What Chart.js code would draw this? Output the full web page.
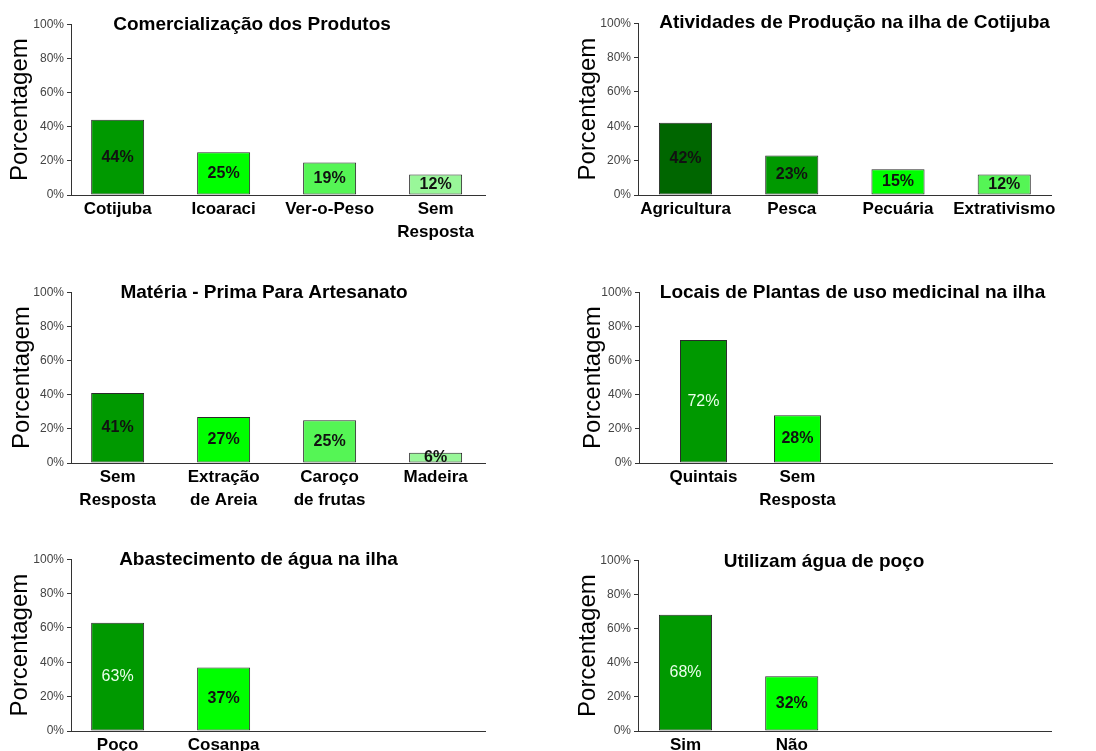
<!DOCTYPE html>
<html lang="pt">
<head>
<meta charset="utf-8">
<title>Cotijuba - gráficos</title>
<script src="https://cdn.jsdelivr.net/npm/chart.js@4/dist/chart.umd.min.js"></script>
<style>
    html, body { margin: 0; padding: 0; background: #fff; overflow: hidden; }
    body { width: 1096px; height: 751px; position: relative; }
    canvas { position: absolute; }
</style>
</head>
<body>
<canvas id="comercChart"></canvas>
<canvas id="ativChart"></canvas>
<canvas id="materiaChart"></canvas>
<canvas id="locaisChart"></canvas>
<canvas id="abastChart"></canvas>
<canvas id="pocoChart"></canvas>
<script>
// Data
const yTickValues = [0, 20, 40, 60, 80, 100];

const comercLabels = ['Cotijuba', 'Icoaraci', 'Ver-o-Peso', ['Sem', 'Resposta']];
const comercValues = [44, 25, 19, 12];

const ativLabels = ['Agricultura', 'Pesca', 'Pecuária', 'Extrativismo'];
const ativValues = [42, 23, 15, 12];

const materiaLabels = [['Sem', 'Resposta'], ['Extração', 'de Areia'], ['Caroço', 'de frutas'], 'Madeira'];
const materiaValues = [41, 27, 25, 6];

const locaisLabels = ['Quintais', ['Sem', 'Resposta']];
const locaisValues = [72, 28];

const abastLabels = ['Poço', 'Cosanpa'];
const abastValues = [63, 37];

const pocoLabels = ['Sim', 'Não'];
const pocoValues = [68, 32];

// Colours
const DARKER = '#006600';
const DARK = '#009900';
const BRIGHT = '#00ff00';
const MID = '#55f555';
const LIGHT = '#99f799';
const TXT_DARK = '#111111';
const TXT_LIGHT = '#eaffea';

Chart.defaults.font.family = '"Liberation Sans", Arial, sans-serif';

// Writes the percentage in the middle of each bar (clipped to the plot, like the original)
const barValueLabels = {
    id: 'barValueLabels',
    afterDatasetsDraw(chart) {
        const ctx = chart.ctx;
        const area = chart.chartArea;
        const ds = chart.data.datasets[0];
        chart.getDatasetMeta(0).data.forEach((bar, i) => {
            const color = ds.valueColors[i];
            ctx.save();
            ctx.beginPath();
            ctx.rect(area.left, area.top, area.right - area.left, area.bottom - area.top);
            ctx.clip();
            ctx.font = (color === TXT_LIGHT ? '' : 'bold ') + '16px "Liberation Sans", Arial, sans-serif';
            ctx.fillStyle = color;
            ctx.textAlign = 'center';
            ctx.textBaseline = 'middle';
            ctx.fillText(ds.data[i].y + '%', bar.x, (bar.y + bar.base) / 2);
            ctx.restore();
        });
    }
};

// Where each panel sits on the page (pixels)
const frames = {
    comerc:  { axisLeft: 71,  axisRight: 485,  plotTop: 23,  plotBottom: 195, titleX: 252,   titleY: 23,  yTitleX: 20,  xMin: -0.44,  xMax: 3.466 },
    ativ:    { axisLeft: 638, axisRight: 1051, plotTop: 23,  plotBottom: 195, titleX: 854.5, titleY: 22,  yTitleX: 588, xMin: -0.447, xMax: 3.44 },
    materia: { axisLeft: 71,  axisRight: 485,  plotTop: 291, plotBottom: 463, titleX: 264,   titleY: 291, yTitleX: 22,  xMin: -0.44,  xMax: 3.466 },
    locais:  { axisLeft: 639, axisRight: 1052, plotTop: 291, plotBottom: 463, titleX: 852.5, titleY: 291, yTitleX: 593, xMin: -0.686, xMax: 3.708 },
    abast:   { axisLeft: 71,  axisRight: 485,  plotTop: 558, plotBottom: 731, titleX: 258.5, titleY: 558, yTitleX: 20,  xMin: -0.44,  xMax: 3.466 },
    poco:    { axisLeft: 638, axisRight: 1051, plotTop: 558, plotBottom: 731, titleX: 824,   titleY: 559, yTitleX: 588, xMin: -0.447, xMax: 3.44 }
};

function drawBarChart(id, f, title, labels, values, colors, valueColors) {
    const L = Math.round(f.yTitleX - 12);
    const T = Math.round(f.titleY - 9.5);
    const W = Math.round(2 * (f.titleX - L));
    const xAxisHeight = 55;
    const H = Math.round(f.plotBottom - T + xAxisHeight);

    const canvas = document.getElementById(id);
    canvas.width = W;
    canvas.height = H;
    canvas.style.left = L + 'px';
    canvas.style.top = T + 'px';

    return new Chart(canvas, {
        type: 'bar',
        data: {
            datasets: [{
                data: values.map((v, i) => ({ x: i, y: v })),
                backgroundColor: colors,
                borderColor: '#2a2a2a',
                borderWidth: 1,
                borderSkipped: false,
                barPercentage: 0.5,
                categoryPercentage: 1,
                valueColors: valueColors
            }]
        },
        options: {
            responsive: false,
            animation: false,
            layout: { padding: 0 },
            plugins: {
                legend: { display: false },
                tooltip: { enabled: false },
                title: {
                    display: true,
                    text: title,
                    color: '#000',
                    font: { size: 19, weight: 'bold', lineHeight: 1 },
                    padding: { top: 0, bottom: f.plotTop - T - 19 }
                }
            },
            scales: {
                x: {
                    type: 'linear',
                    offset: false,
                    min: f.xMin,
                    max: f.xMax,
                    grid: { display: false, drawTicks: false },
                    border: { color: '#333', width: 1 },
                    afterBuildTicks: axis => { axis.ticks = labels.map((_, i) => ({ value: i })); },
                    afterFit: axis => { axis.height = xAxisHeight; },
                    ticks: {
                        callback: v => labels[v],
                        color: '#000',
                        font: { size: 17, weight: 'bold', lineHeight: 1.35 },
                        padding: 3,
                        maxRotation: 0,
                        autoSkip: false
                    }
                },
                y: {
                    min: 0,
                    max: 100,
                    afterFit: axis => { axis.width = f.axisLeft - L; },
                    grid: { drawOnChartArea: false, tickLength: 4, color: '#333' },
                    border: { color: '#333', width: 1 },
                    ticks: {
                        stepSize: 10,
                        callback: v => yTickValues.includes(v) ? v + '%' : '',
                        color: '#444',
                        font: { size: 12 },
                        padding: 3
                    },
                    title: {
                        display: true,
                        text: 'Porcentagem',
                        color: '#000',
                        font: { size: 24, lineHeight: 1 },
                        padding: 0
                    }
                },
                // empty right-hand strip so the title stays centred on the whole panel
                gap: {
                    position: 'right',
                    grid: { display: false },
                    border: { display: false },
                    ticks: { display: false },
                    afterFit: axis => { axis.width = L + W - f.axisRight; }
                }
            }
        },
        plugins: [barValueLabels]
    });
}

drawBarChart('comercChart', frames.comerc, 'Comercialização dos Produtos',
    comercLabels, comercValues, [DARK, BRIGHT, MID, LIGHT], [TXT_DARK, TXT_DARK, TXT_DARK, TXT_DARK]);
drawBarChart('ativChart', frames.ativ, 'Atividades de Produção na ilha de Cotijuba',
    ativLabels, ativValues, [DARKER, DARK, BRIGHT, MID], [TXT_DARK, TXT_DARK, TXT_DARK, TXT_DARK]);
drawBarChart('materiaChart', frames.materia, 'Matéria - Prima Para Artesanato',
    materiaLabels, materiaValues, [DARK, BRIGHT, MID, LIGHT], [TXT_DARK, TXT_DARK, TXT_DARK, TXT_DARK]);
drawBarChart('locaisChart', frames.locais, 'Locais de Plantas de uso medicinal na ilha',
    locaisLabels, locaisValues, [DARK, BRIGHT], [TXT_LIGHT, TXT_DARK]);
drawBarChart('abastChart', frames.abast, 'Abastecimento de água na ilha',
    abastLabels, abastValues, [DARK, BRIGHT], [TXT_LIGHT, TXT_DARK]);
drawBarChart('pocoChart', frames.poco, 'Utilizam água de poço',
    pocoLabels, pocoValues, [DARK, BRIGHT], [TXT_LIGHT, TXT_DARK]);
</script>
</body>
</html>
